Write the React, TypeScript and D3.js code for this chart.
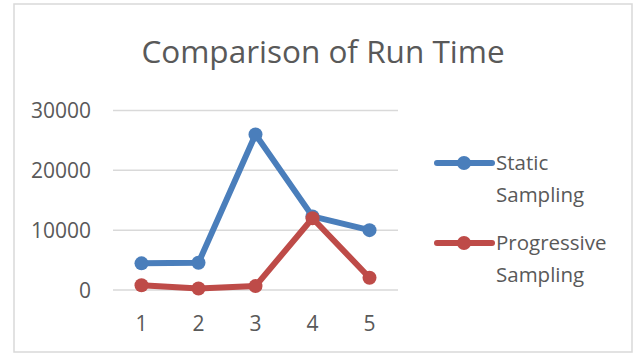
import React from "react";
import * as d3 from "d3";

const categories = ["1", "2", "3", "4", "5"];
const staticSampling = [4450, 4550, 26000, 12300, 10000];
const progressiveSampling = [800, 250, 650, 12000, 2050];
const yTicks = [0, 10000, 20000, 30000];

const seriesNames = [["Static", "Sampling"], ["Progressive", "Sampling"]];
const seriesColors = ["#4a7ebb", "#be4b48"];

const W = 637;
const H = 356;
const FONT = "'Open Sans', 'Noto Sans', sans-serif";
const TEXT = "#595959";

export default function App() {
  const x = d3.scaleBand<string>().domain(categories).range([113, 398]);
  const y = d3.scaleLinear().domain([0, 30000]).range([290, 110.5]);
  const cx = (i: number) => (x(categories[i]) as number) + x.bandwidth() / 2;
  const line = d3
    .line<number>()
    .x((_, i) => cx(i))
    .y((d) => y(d));
  const series = [staticSampling, progressiveSampling];

  return (
    <svg
      width={W}
      height={H}
      style={{ position: "absolute", left: 0, top: 0, background: "#fff" }}
      fontFamily={FONT}
    >
      <rect x={14} y={4} width={618} height={348} fill="#fff" stroke="#d9d9d9" strokeWidth={1.5} />
      <text x={323} y={63} textAnchor="middle" fontSize={31.5} fill={TEXT}>
        Comparison of Run Time
      </text>

      {yTicks.map((t) => (
        <g key={t}>
          <line x1={113} x2={398} y1={y(t)} y2={y(t)} stroke="#d9d9d9" strokeWidth={1.5} />
          <text x={91} y={y(t)} dy="0.36em" textAnchor="end" fontSize={21} fill={TEXT}>
            {t}
          </text>
        </g>
      ))}

      {categories.map((c, i) => (
        <text key={c} x={cx(i)} y={331} textAnchor="middle" fontSize={21} fill={TEXT}>
          {c}
        </text>
      ))}

      {series.map((s, si) => (
        <g key={si}>
          <path
            d={line(s) ?? ""}
            fill="none"
            stroke={seriesColors[si]}
            strokeWidth={6}
            strokeLinejoin="round"
            strokeLinecap="round"
          />
          {s.map((v, i) => (
            <circle key={i} cx={cx(i)} cy={y(v)} r={7} fill={seriesColors[si]} />
          ))}
        </g>
      ))}

      {seriesNames.map((name, si) => {
        const ly = 163 + si * 80;
        return (
          <g key={si}>
            <line x1={437} x2={492} y1={ly} y2={ly} stroke={seriesColors[si]} strokeWidth={6} strokeLinecap="round" />
            <circle cx={464} cy={ly} r={7} fill={seriesColors[si]} />
            <text x={496} y={ly + 7} fontSize={20.5} fill={TEXT}>
              {name[0]}
            </text>
            <text x={496} y={ly + 39} fontSize={20.5} fill={TEXT}>
              {name[1]}
            </text>
          </g>
        );
      })}
    </svg>
  );
}
